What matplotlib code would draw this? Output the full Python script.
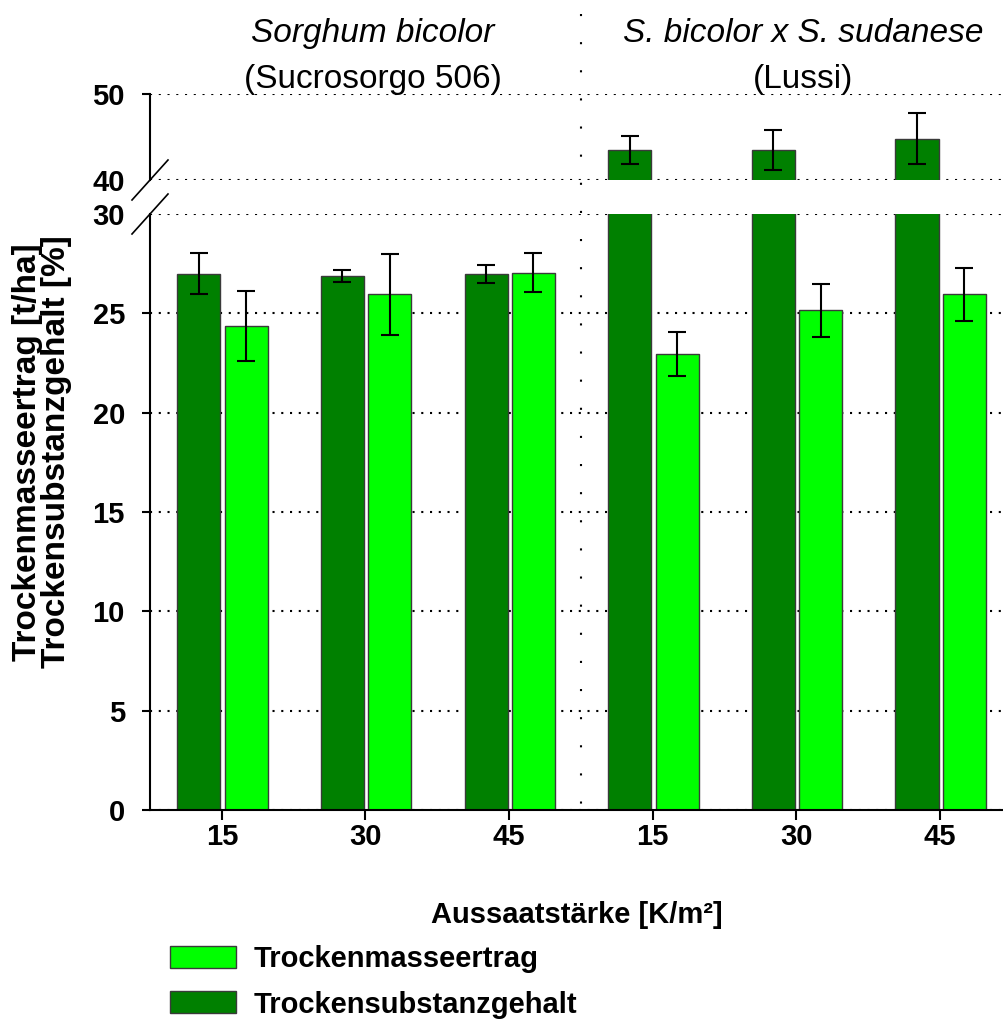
"""Sorghum dry matter yield / dry matter content bar chart (broken y axis)."""

import matplotlib
matplotlib.use("Agg")
import matplotlib.pyplot as plt
import numpy as np
from matplotlib.lines import Line2D
from matplotlib.patches import Patch
from matplotlib.transforms import blended_transform_factory

# --- data ------------------------------------------------------------------
seed_rates = ["15", "30", "45", "15", "30", "45"]
groups = ["Sorghum bicolor", "S. bicolor x S. sudanese"]
group_sub = ["(Sucrosorgo 506)", "(Lussi)"]

# Trockensubstanzgehalt [%]  (dark green)
ts_gehalt = [27.0, 26.9, 27.0, 43.5, 43.5, 44.8]
ts_gehalt_err = [1.05, 0.3, 0.45, 1.6, 2.35, 2.95]

# Trockenmasseertrag [t/ha]  (light green)
tm_ertrag = [24.35, 25.95, 27.05, 22.95, 25.15, 25.95]
tm_ertrag_err = [1.75, 2.05, 1.0, 1.1, 1.35, 1.35]

DARK = "#008000"
LIGHT = "#00ff00"
EDGE = "#3a3a3a"

plt.rcParams["font.family"] = ["Liberation Sans", "DejaVu Sans"]

fig = plt.figure(figsize=(10.04, 10.21), dpi=100)
H = 1021.0
W = 1004.0
left = 150 / W
width = 854 / W
ax_lo = fig.add_axes([left, (H - 810) / H, width, 596 / H])
ax_hi = fig.add_axes([left, (H - 180) / H, width, 86 / H], sharex=ax_lo)

x = np.arange(len(seed_rates))
bw = 0.3
for ax in (ax_lo, ax_hi):
    ax.bar(x - 0.16, ts_gehalt, bw, color=DARK, edgecolor=EDGE, linewidth=1.0, zorder=2)
    ax.bar(x + 0.17, tm_ertrag, bw, color=LIGHT, edgecolor=EDGE, linewidth=1.0, zorder=2)
    ax.errorbar(x - 0.16, ts_gehalt, yerr=ts_gehalt_err, fmt="none", ecolor="black",
                elinewidth=1.5, capsize=6.8, capthick=1.5, zorder=3)
    ax.errorbar(x + 0.17, tm_ertrag, yerr=tm_ertrag_err, fmt="none", ecolor="black",
                elinewidth=1.5, capsize=6.8, capthick=1.5, zorder=3)
    ax.yaxis.grid(True, linestyle=(0, (1, 3.2)), color="black", linewidth=1.5)
    ax.set_axisbelow(True)
    for s in ("top", "right"):
        ax.spines[s].set_visible(False)
    ax.spines["left"].set_linewidth(1.5)
    ax.tick_params(axis="y", length=6, width=1.5, pad=12)

ax_lo.set_xlim(-0.5, 5.446)
ax_lo.set_ylim(0, 30)
ax_lo.set_yticks([0, 5, 10, 15, 20, 25, 30])
ax_lo.set_yticklabels(["0", "5", "10", "15", "20", "25", "30"], fontweight="bold", fontsize=21)
ax_lo.yaxis.get_major_ticks()[-1].tick1line.set_visible(False)
ax_lo.spines["bottom"].set_linewidth(1.5)
ax_lo.set_xticks(x)
ax_lo.set_xticklabels(seed_rates, fontweight="bold", fontsize=21)
ax_lo.tick_params(axis="x", length=7, width=1.5, pad=2)
ax_lo.set_xlabel("Aussaatstärke [K/m²]", fontweight="bold", fontsize=21, labelpad=36)

ax_hi.set_ylim(40, 50)
ax_hi.set_yticks([40, 50])
ax_hi.set_yticklabels(["40", "50"], fontweight="bold", fontsize=21)
ax_hi.yaxis.get_major_ticks()[0].tick1line.set_visible(False)
ax_hi.spines["bottom"].set_visible(False)
ax_hi.tick_params(axis="x", bottom=False, labelbottom=False)

# break marks on the left spine
dx = 18 / 854
for ax, yb, h in ((ax_hi, 0.0, 86), (ax_lo, 1.0, 596)):
    dy = 20 / h
    ax.plot([-dx, dx], [yb - dy, yb + dy], transform=ax.transAxes, color="black",
            linewidth=1.2, clip_on=False, zorder=5)

# dotted separator between the two cultivars
trans = blended_transform_factory(ax_lo.transData, fig.transFigure)
fig.add_artist(Line2D([2.5, 2.5], [1 - 14 / H, 1 - 810 / H], transform=trans,
                      color="black", linewidth=1.5, linestyle=(0, (1, 12.5))))

# group titles
for gi, (name, sub) in enumerate(zip(groups, group_sub)):
    cx = gi * 3 + 1.05
    fig.text(cx, 1 - 42 / H, name, transform=trans, ha="center", va="baseline",
             fontsize=24, style="italic")
    fig.text(cx, 1 - 88 / H, sub, transform=trans, ha="center", va="baseline",
             fontsize=24)

# y axis label
fig.text(42 / W, 1 - 452 / H, "Trockenmasseertrag [t/ha]\nTrockensubstanzgehalt [%]",
         rotation=90, ha="center", va="center", fontsize=24, fontweight="bold",
         linespacing=0.92)

handles = [Patch(facecolor=LIGHT, edgecolor=EDGE, linewidth=1.0),
           Patch(facecolor=DARK, edgecolor=EDGE, linewidth=1.0)]
fig.legend(handles, ["Trockenmasseertrag", "Trockensubstanzgehalt"],
           loc="upper left", bbox_to_anchor=(170 / W, 1 - 945 / H), frameon=False,
           borderpad=0, borderaxespad=0, handlelength=2.26, handleheight=0.79,
           handletextpad=0.62, labelspacing=0.6,
           prop={"weight": "bold", "size": 21})

fig.savefig("out.png", dpi=100)
